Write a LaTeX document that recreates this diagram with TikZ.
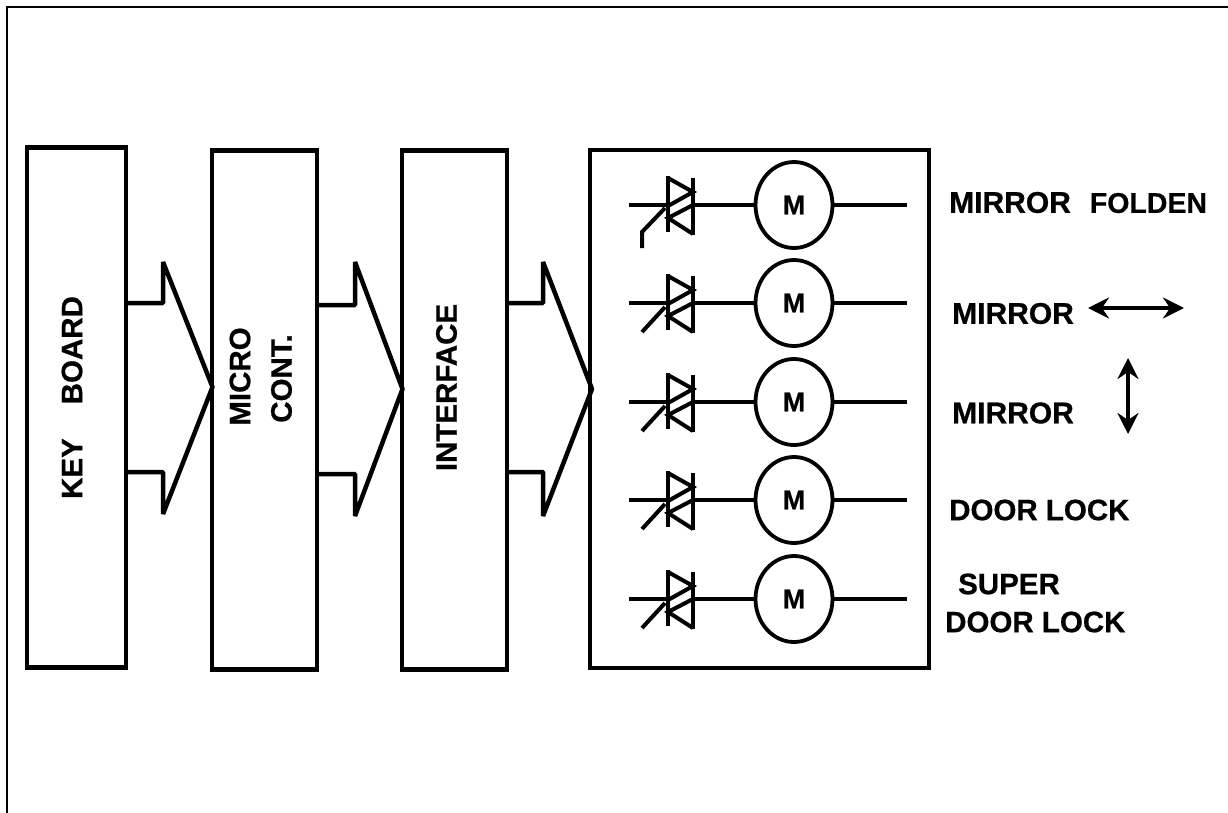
\documentclass[tikz,border=0pt]{standalone}
\usepackage{fontspec}
\setmainfont{Liberation Sans}[BoldFeatures={FakeBold=0.7}]
\usetikzlibrary{arrows.meta,shapes.geometric}
\newcommand{\fsize}[1]{\fontsize{#1}{#1}\selectfont\bfseries}
\tikzset{
  blockbox/.style={draw=black,line width=4.5pt,minimum width=#1,inner sep=0pt},
  lbl/.style={font=\fsize{29.5},inner sep=0pt,anchor=west},
  vlbl/.style={font=\fsize{29.5},inner sep=0pt,rotate=90},
  wire/.style={line width=4pt,line join=miter},
  trline/.style={line width=4pt,line join=miter},
  motor/.style={draw=black,line width=3.8pt,ellipse,minimum width=77pt,minimum height=86pt,inner sep=0pt,font=\fsize{27}},
  biarrow/.style={line width=3.4pt,{Stealth[length=21pt,width=21pt,inset=7pt]}-{Stealth[length=21pt,width=21pt,inset=7pt]}},
  bigarrow/.style={line width=4.5pt,line join=bevel}
}
\begin{document}
\begin{tikzpicture}[x=1pt,y=-1pt]
\useasboundingbox (0,0) rectangle (1228,813);
\draw[line width=2pt] (6.5,813) -- (6.5,7) -- (1228,7);
% blocks
\node[blockbox=99pt,minimum height=520pt] (kb) at (76.5,407.5) {};
\node[blockbox=105pt,minimum height=519pt] (mc) at (264.5,410) {};
\node[blockbox=105pt,minimum height=519pt] (ifc) at (454.5,410) {};
\node[blockbox=339pt,minimum height=518pt] (drv) at (759.5,409) {};
% labels in blocks
\node[vlbl] (kbt) at (72,397.5) {KEY\hspace{34pt}BOARD};
\node[vlbl] (mct1) at (240,376.5) {MICRO};
\node[vlbl] (mct2) at (281.5,378.5) {CONT.};
\node[vlbl] (ift) at (446.5,387.5) {INTERFACE};
% block arrows
\coordinate (a1) at (212.5,387);
\coordinate (a2) at (402.5,389);
\coordinate (a3) at (592,389);
\draw[bigarrow] (127,303) -- (163,303) -- (163,262) -- (a1) -- (163,514) -- (163,472) -- (127,472);
\draw[bigarrow] (317,305) -- (355,305) -- (355,262) -- (a2) -- (355,516) -- (355,474) -- (317,474);
\draw[bigarrow] (507,303) -- (543,303) -- (543,262) -- (a3) -- (543,516) -- (543,472) -- (507,472);
% rows
\foreach \i/\y in {1/205,2/303,3/402,4/500,5/599}{
  \node[motor] (m\i) at (794,\y) {M};
  \coordinate (t\i) at (629,\y);
  \coordinate (u\i) at (668,\y);
  \coordinate (v\i) at (693,\y);
  \coordinate (e\i) at (907,\y);
  \draw[wire] (t\i) -- (u\i);
  \draw[wire] (v\i) -- (m\i);
  \draw[wire] (m\i) -- (e\i);
  \draw[trline] (668,\y-29) -- (668,\y+27);
  \draw[trline] (693,\y-27) -- (693,\y+30);
  \draw[trline] (668,\y-27) -- (693,\y-13) -- (668,\y+1);
  \draw[trline] (693,\y+29) -- (668,\y+13) -- (693,\y+0);
}
\draw[trline] (642,248) -- (642,232) -- (665,208);
\foreach \y in {303,402,500,599}{
  \draw[trline] (642,\y+29) -- (665,\y+4);
}
% right labels
\node[lbl,font=\fsize{30}] (l1) at (949,202.5) {MIRROR\hspace{19pt}{\fsize{28.5}FOLDEN}};
\node[lbl,font=\fsize{30}] (l2) at (952,313.5) {MIRROR};
\node[lbl,font=\fsize{30}] (l3) at (952,413) {MIRROR};
\node[lbl] (l4) at (949,510) {DOOR LOCK};
\node[lbl] (l5) at (958,584) {SUPER};
\node[lbl] (l6) at (945,622) {DOOR LOCK};
\coordinate (h1) at (1088,308);
\coordinate (h2) at (1184,308);
\coordinate (v1) at (1128,358);
\coordinate (v2) at (1128,434);
\draw[biarrow] (h1) -- (h2);
\draw[biarrow] (v1) -- (v2);
\end{tikzpicture}
\end{document}
